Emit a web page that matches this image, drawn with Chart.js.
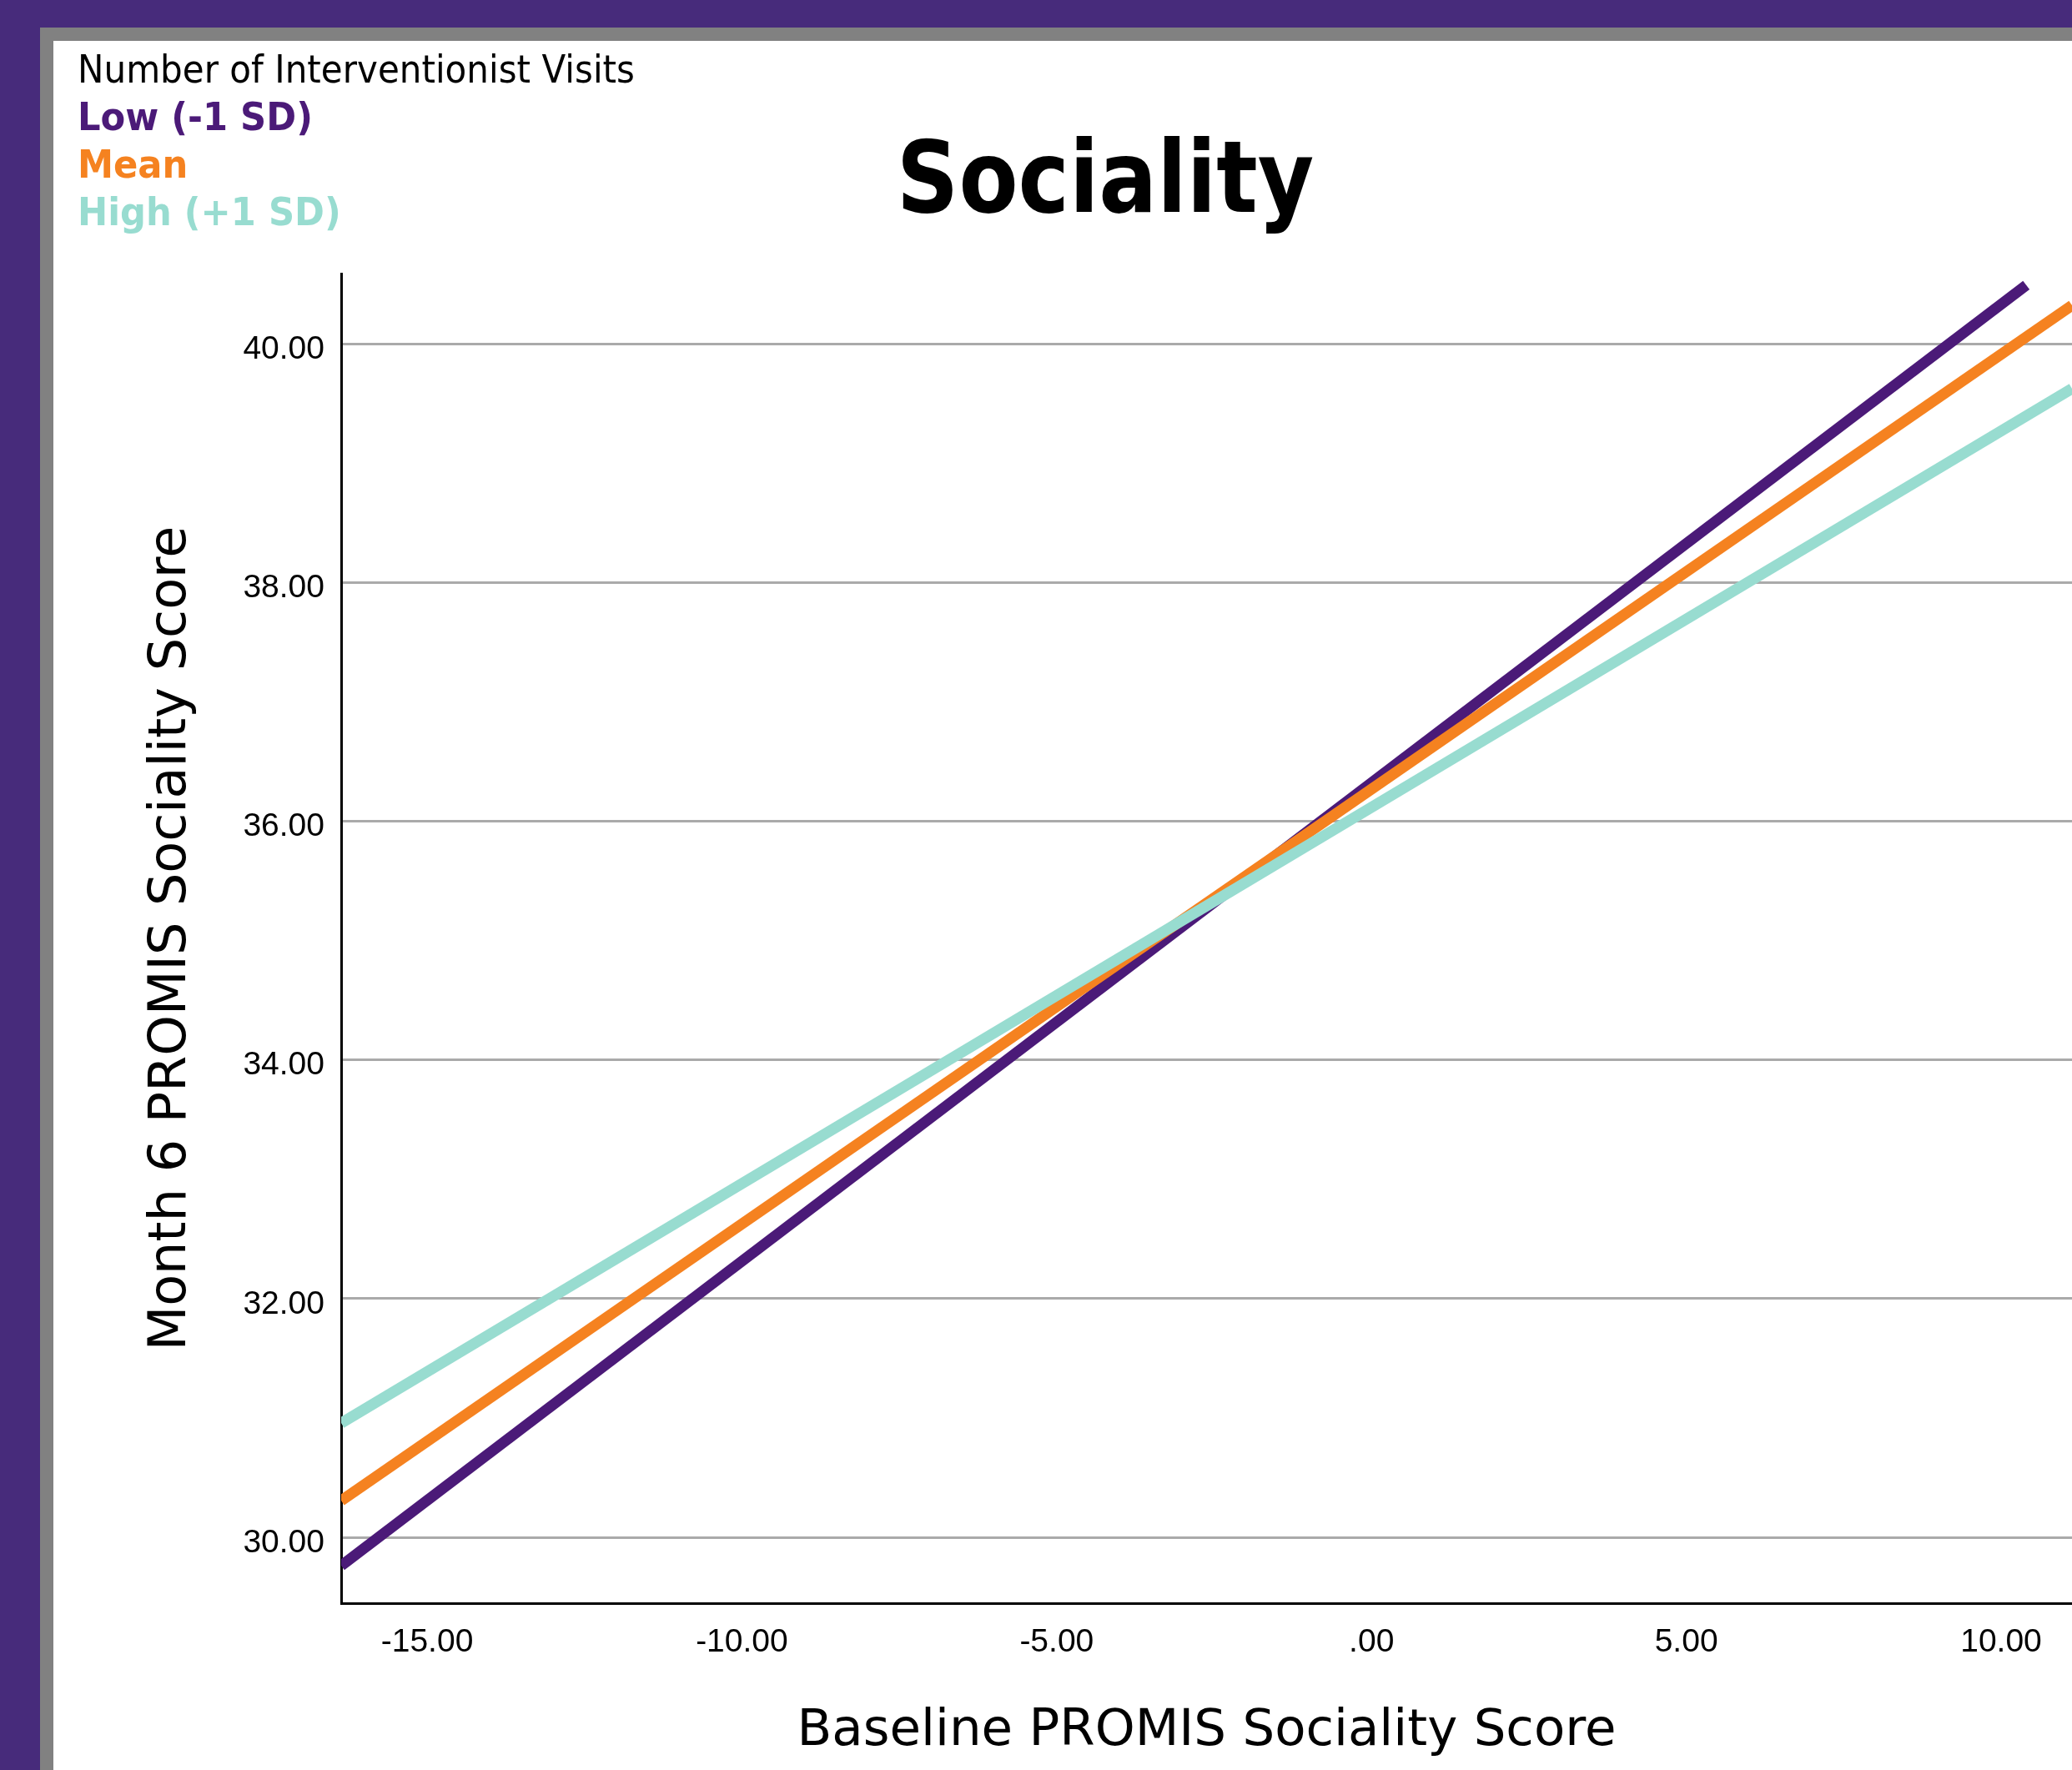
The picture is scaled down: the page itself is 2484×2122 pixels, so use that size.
<!DOCTYPE html>
<html>
<head>
<meta charset="utf-8">
<title>Sociality</title>
<script src="https://cdn.jsdelivr.net/npm/chart.js@4/dist/chart.umd.min.js"></script>
<style>
  html, body { margin: 0; padding: 0; }
  body { width: 2484px; height: 2122px; background: #472b7b; position: relative; overflow: hidden; }
  #frame { position: absolute; left: 48px; top: 33px; right: 0; bottom: 0;
           background: #ffffff; border-left: 16px solid #818181; border-top: 16px solid #818181; }
  #chart { position: absolute; left: 0; top: 0; }
</style>
</head>
<body>
<div id="frame"></div>
<canvas id="chart" width="2484" height="2122"></canvas>
<script>
// Simple-slope lines: predicted Month 6 score across baseline score,
// at three levels of the moderator.
const chartTitle = 'Sociality';
const legendHeader = 'Number of Interventionist Visits';
const xTitle = 'Baseline PROMIS Sociality Score';
const yTitle = 'Month 6 PROMIS Sociality Score';

const seriesNames = ['Low (-1 SD)', 'Mean', 'High (+1 SD)'];
const seriesColors = ['#4b1a78', '#f58220', '#98dcd0'];

// line endpoints (baseline score, month 6 score)
const lowX  = [-16.365, 10.40];
const lowY  = [29.762, 40.49];
const meanX = [-16.365, 11.126];
const meanY = [30.307, 40.321];
const highX = [-16.365, 11.126];
const highY = [30.957, 39.623];

const xRange = [-16.365, 11.126];
const yRange = [29.448, 40.587];
const xTickValues = [-15, -10, -5, 0, 5, 10];
const xTickLabels = ['-15.00', '-10.00', '-5.00', '.00', '5.00', '10.00'];
const yTickValues = [30, 32, 34, 36, 38, 40];
const yTickLabels = ['30.00', '32.00', '34.00', '36.00', '38.00', '40.00'];

function pairs(xs, ys) { return xs.map((x, i) => ({ x: x, y: ys[i] })); }

const seriesData = [pairs(lowX, lowY), pairs(meanX, meanY), pairs(highX, highY)];

const datasets = seriesNames.map((name, i) => ({
  label: name,
  data: seriesData[i],
  borderColor: seriesColors[i],
  backgroundColor: seriesColors[i],
  borderWidth: 13,
  borderCapStyle: 'butt',
  pointRadius: 0,
  pointHoverRadius: 0,
  fill: false,
  tension: 0,
  clip: 0,
  order: seriesNames.length - i
}));

// Title and the stacked coloured legend drawn as canvas text
const headerPlugin = {
  id: 'headerText',
  afterDraw(chart) {
    const ctx = chart.ctx;
    ctx.save();
    ctx.textBaseline = 'alphabetic';
    ctx.textAlign = 'center';

    // main title
    ctx.save();
    ctx.translate(1325, 254);
    ctx.scale(0.87, 1);
    ctx.fillStyle = '#000000';
    ctx.font = 'bold 119px "DejaVu Sans"';
    ctx.fillText(chartTitle, 0, 0);
    ctx.restore();

    // legend header
    ctx.textAlign = 'left';
    ctx.save();
    ctx.translate(93, 99);
    ctx.scale(0.895, 1);
    ctx.fillStyle = '#000000';
    ctx.font = '47px "DejaVu Sans"';
    ctx.fillText(legendHeader, 0, 0);
    ctx.restore();

    // legend entries
    chart.data.datasets.forEach((ds, i) => {
      ctx.save();
      ctx.translate(93, 156 + i * 57);
      ctx.scale(0.94, 1);
      ctx.fillStyle = ds.borderColor;
      ctx.font = 'bold 46px "DejaVu Sans"';
      ctx.fillText(ds.label, 0, 0);
      ctx.restore();
    });
    ctx.restore();
  }
};

new Chart(document.getElementById('chart'), {
  type: 'line',
  data: { datasets: datasets },
  options: {
    responsive: false,
    animation: false,
    events: [],
    layout: { padding: { top: 328, left: 0, right: 0, bottom: 0 } },
    plugins: {
      legend: { display: false },
      title: { display: false },
      tooltip: { enabled: false }
    },
    scales: {
      x: {
        type: 'linear',
        min: xRange[0],
        max: xRange[1],
        afterBuildTicks: (axis) => { axis.ticks = xTickValues.map(v => ({ value: v })); },
        afterFit: (axis) => { axis.height = 200; },
        grid: { display: false, drawTicks: false },
        border: { display: true, color: '#000000', width: 3 },
        ticks: {
          autoSkip: false,
          maxRotation: 0,
          padding: 24,
          color: '#000000',
          font: { family: '"Liberation Sans", Arial, sans-serif', size: 39 },
          callback: (value, index) => xTickLabels[index]
        },
        title: {
          display: true,
          text: xTitle,
          color: '#000000',
          font: { family: '"DejaVu Sans"', size: 61 },
          padding: { top: 0, bottom: 9 }
        }
      },
      y: {
        type: 'linear',
        min: yRange[0],
        max: yRange[1],
        afterBuildTicks: (axis) => { axis.ticks = yTickValues.map(v => ({ value: v })); },
        afterFit: (axis) => { axis.width = 409; },
        grid: { display: true, color: '#aaaaaa', lineWidth: 3, drawTicks: false },
        border: { display: true, color: '#000000', width: 3 },
        ticks: {
          autoSkip: false,
          padding: 20,
          labelOffset: 7,
          color: '#000000',
          font: { family: '"Liberation Sans", Arial, sans-serif', size: 39 },
          callback: (value, index) => yTickLabels[index]
        },
        title: {
          display: true,
          text: yTitle,
          color: '#000000',
          font: { family: '"DejaVu Sans"', size: 62 },
          padding: { top: 169, bottom: 0 }
        }
      }
    }
  },
  plugins: [headerPlugin]
});
</script>
</body>
</html>
